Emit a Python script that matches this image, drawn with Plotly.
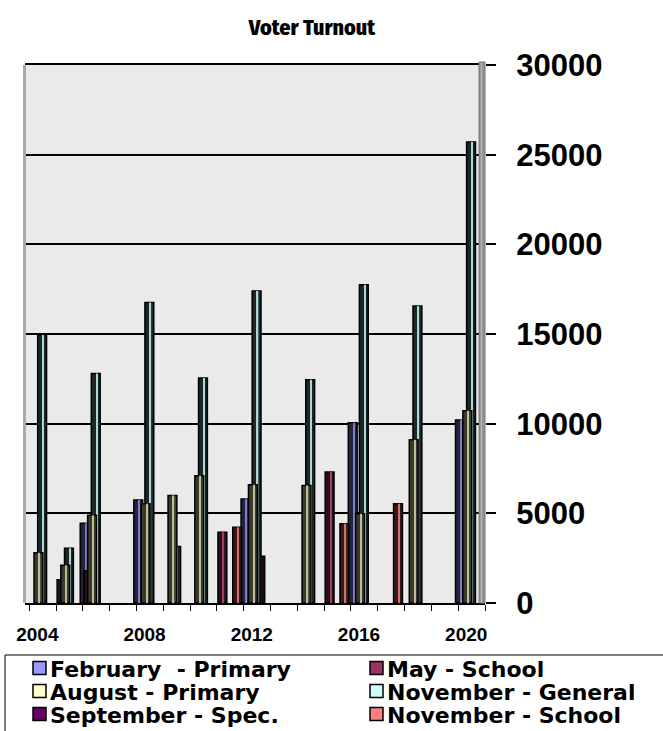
import plotly.graph_objects as go

# ---------------- data ----------------
years = [2004, 2005, 2006, 2007, 2008, 2009, 2010, 2011, 2012,
         2013, 2014, 2015, 2016, 2017, 2018, 2019, 2020]

series_names = ["February\u00a0 - Primary", "May - School", "August - Primary",
                "November - General", "September - Spec.", "November - School"]

feb_primary = [None, None, 4450, None, 5750, None, None, None, 5800,
               None, None, None, 10050, None, None, None, 10200]
may_school = [None, 1300, 1800, None, None, None, None, 3950, None,
              None, None, 7300, None, None, None, None, None]
aug_primary = [2800, 2100, 4900, None, 5530, 6000, 7100, None, 6600,
               None, 6550, None, 4970, None, 9100, None, 10720]
nov_general = [14950, 3050, 12800, None, 16750, 3150, 12550, None, 17400,
               None, 12450, None, 17750, None, 16560, None, 25700]
sep_special = [None, None, None, None, None, None, None, None, 2600,
               None, None, None, None, None, None, None, None]
nov_school = [None, None, None, None, None, None, None, 4230, None,
              None, None, 4420, None, 5530, None, None, None]

label_years = [2004, 2008, 2012, 2016, 2020]
tick_labels = ["2004", "2008", "2012", "2016", "2020"]
y_ticks = [0, 5000, 10000, 15000, 20000, 25000, 30000]

series_values = [feb_primary, may_school, aug_primary, nov_general, sep_special, nov_school]

# ---------------- styles ----------------
legend_colors = ["#9999FF", "#993366", "#FFFFCC", "#CCFFFF", "#660066", "#FF8080"]
face_colors = ["#23233a", "#2a0e1d", "#3a3a2c", "#1c2826", "#1c061c", "#381818"]
stripe_colors = ["#7b7bd6", "#a0406a", "#bdbd9a", "#a8d8d8", "#7a2a7a", "#d07070"]
draw_order = [0, 1, 4, 5, 3, 2]
BAR_W = 0.33
BASE_OFF = -0.60
STEP = 0.138
STRIPE_POS = 0.18
STRIPE_W = 0.05
TICK_SHIFT = -0.2

ARIAL = "Liberation Sans, Arimo, Arial, sans-serif"
TITLE_FONT = "Fira Sans Condensed, Liberation Sans Narrow, sans-serif"
LEGEND_FONT = "DejaVu Sans, Verdana, sans-serif"

# plot area in pixels
L, R, T, B = 25, 485, 65, 603
W_FIG, H_FIG = 663, 731


def px_x(px):
    return (px - L) / (R - L)


def px_y(py):
    return (B - py) / (B - T)


fig = go.Figure()

for i in draw_order:
    off = BASE_OFF + STEP * i
    fig.add_trace(go.Bar(
        x=years, y=series_values[i], name=series_names[i],
        offset=off, width=BAR_W,
        marker=dict(color=face_colors[i], line=dict(color="black", width=1.5)),
        showlegend=False, hoverinfo="x+y+name"))
    fig.add_trace(go.Bar(
        x=years, y=series_values[i], name=series_names[i],
        offset=off + STRIPE_POS, width=STRIPE_W,
        marker=dict(color=stripe_colors[i], line=dict(width=0)),
        showlegend=False, hoverinfo="skip"))

shapes = []
# grey side wall on the right
shapes.append(dict(type="rect", xref="paper", yref="paper",
                   x0=px_x(479), x1=px_x(485), y0=0, y1=px_y(62),
                   fillcolor="#8e8e8e", line=dict(color="#7a7a7a", width=1), layer="above"))
shapes.append(dict(type="line", xref="paper", yref="paper",
                   x0=px_x(481.5), x1=px_x(481.5), y0=0, y1=px_y(63),
                   line=dict(color="#b8b8b8", width=1.5), layer="above"))
# left light wall edge
shapes.append(dict(type="line", xref="paper", yref="paper",
                   x0=px_x(24.5), x1=px_x(24.5), y0=0, y1=1,
                   line=dict(color="#aaaaaa", width=3), layer="above"))

# legend box
shapes.append(dict(type="rect", xref="paper", yref="paper",
                   x0=px_x(5), x1=px_x(680), y0=px_y(655), y1=px_y(745),
                   fillcolor="white", line=dict(color="black", width=1)))

annotations = []
col_sw = [33, 370]
col_tx = [48, 385]
row_y = [668, 691, 714]
for k in range(6):
    r, c = k // 2, k % 2
    cy = row_y[r]
    shapes.append(dict(type="rect", xref="paper", yref="paper",
                       x0=px_x(col_sw[c]), x1=px_x(col_sw[c] + 13),
                       y0=px_y(cy + 6.5), y1=px_y(cy - 6.5),
                       fillcolor=legend_colors[k], line=dict(color="black", width=1.5)))
    annotations.append(dict(xref="paper", yref="paper", x=px_x(col_tx[c]), y=px_y(cy + 1),
                            xanchor="left", yanchor="middle", showarrow=False,
                            text="<b>" + series_names[k] + "</b>",
                            font=dict(family=LEGEND_FONT, size=22, color="black")))

fig.update_layout(
    width=W_FIG, height=H_FIG,
    margin=dict(l=L, r=W_FIG - R, t=T, b=H_FIG - B, pad=0),
    paper_bgcolor="white", plot_bgcolor="#EAEAEA",
    barmode="overlay", showlegend=False,
    title=dict(text="Voter Turnout", x=312 / W_FIG, xref="container", xanchor="center",
               y=1 - 27 / H_FIG, yref="container", yanchor="middle",
               font=dict(family=TITLE_FONT, size=22, color="black", weight=800)),
    shapes=shapes, annotations=annotations,
)

fig.update_xaxes(
    type="linear", range=[2003.34, 2020.50],
    tickmode="array", tickvals=[y + TICK_SHIFT for y in label_years], ticktext=tick_labels,
    ticks="", showgrid=False, zeroline=False,
    showline=True, linecolor="black", linewidth=2, mirror=True,
    tickfont=dict(family=ARIAL, size=19, color="black", weight="bold"),
    ticklabelstandoff=13,
    minor=dict(tickmode="linear", tick0=2003.5, dtick=1, ticks="outside", ticklen=6,
               tickcolor="black", tickwidth=1, showgrid=False),
)

fig.update_yaxes(
    range=[0, 30000], side="right", tickmode="array", tickvals=y_ticks,
    ticktext=[str(v) for v in y_ticks],
    showgrid=True, gridcolor="black", gridwidth=2, zeroline=False, showline=False,
    ticks="outside", ticklen=10, tickcolor="black", tickwidth=1.5,
    tickfont=dict(family=ARIAL, size=31, color="black", weight="bold"),
    ticklabelstandoff=14,
)

fig.write_html("out.html")
